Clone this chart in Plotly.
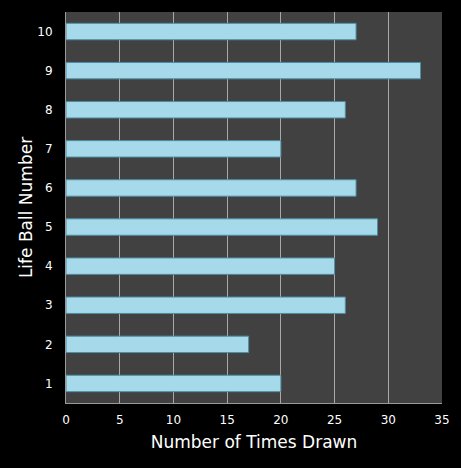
import plotly.graph_objects as go

# Life ball numbers and how often each was drawn
balls = ["1", "2", "3", "4", "5", "6", "7", "8", "9", "10"]
times_drawn = [20, 17, 26, 25, 29, 27, 20, 26, 33, 27]
x_ticks = [0, 5, 10, 15, 20, 25, 30, 35]

fig = go.Figure()
fig.add_trace(go.Bar(
    x=times_drawn,
    y=balls,
    orientation="h",
    marker=dict(color="#a6d9ea", line=dict(color="#4f8ea3", width=1)),
    width=0.42,
))

fig.update_layout(
    width=461,
    height=468,
    margin=dict(l=66, r=19, t=12, b=65),
    paper_bgcolor="black",
    plot_bgcolor="#414141",
    font=dict(family="DejaVu Sans", color="white", size=12),
    showlegend=False,
    bargap=0.58,
)
fig.update_xaxes(
    range=[0, 35],
    tickvals=x_ticks,
    automargin=False,
    showgrid=True,
    gridcolor="#a8a8a8",
    gridwidth=1,
    showline=True,
    linecolor="#9a9a9a",
    zeroline=False,
    ticks="",
    ticklabelstandoff=6,
    title=dict(text="Number of Times Drawn", font=dict(size=17, color="white"), standoff=9),
)
fig.update_yaxes(
    type="category",
    categoryorder="array",
    categoryarray=balls,
    automargin=False,
    showgrid=False,
    showline=True,
    linecolor="#9a9a9a",
    ticks="",
    ticklabelstandoff=10,
    title=dict(text="Life Ball Number", font=dict(size=17, color="white"), standoff=0),
)

# the page body has a default 8px margin; drop it so the chart fills the window
fig.write_html(
    "out.html",
    config={"displayModeBar": False},
    post_script="document.body.style.margin='0';",
)
